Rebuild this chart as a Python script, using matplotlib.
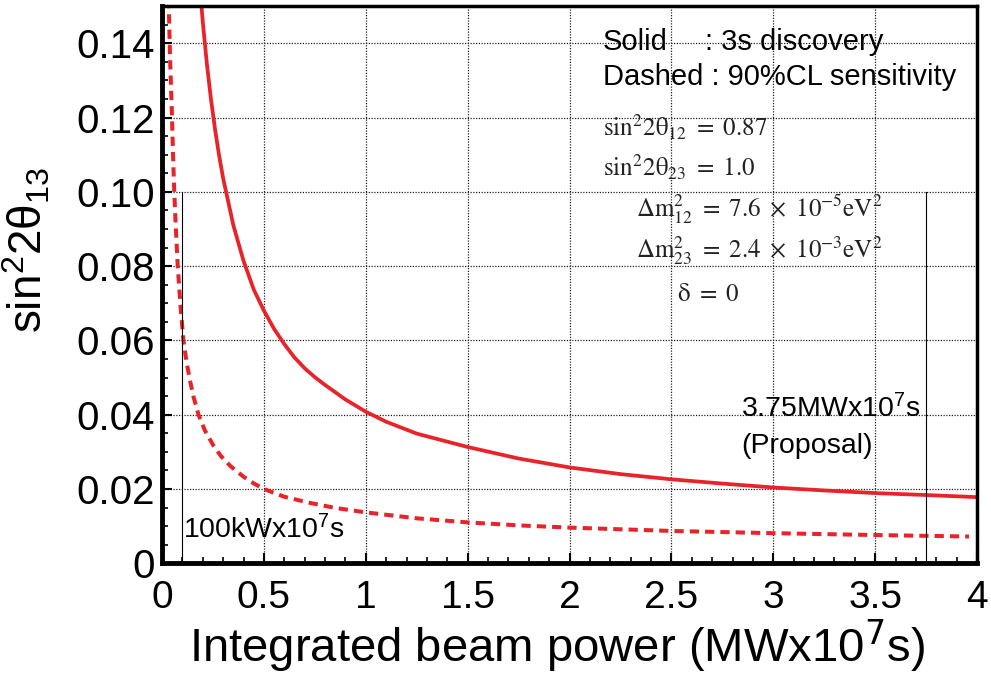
import numpy as np
import matplotlib
matplotlib.use("Agg")
import matplotlib.pyplot as plt
from matplotlib.ticker import MultipleLocator

plt.rcParams['font.family'] = ['Liberation Sans', 'DejaVu Sans']
plt.rcParams['mathtext.fontset'] = 'custom'
plt.rcParams['mathtext.rm'] = 'Liberation Sans'
plt.rcParams['mathtext.it'] = 'Liberation Sans'
plt.rcParams['mathtext.bf'] = 'Liberation Sans:bold'

# 3 sigma discovery (solid)
power_disc = [0.185, 0.2, 0.22, 0.24, 0.26, 0.28, 0.3, 0.35, 0.4, 0.45, 0.5, 0.55, 0.6,
              0.65, 0.7, 0.75, 0.8, 0.9, 1.0, 1.1, 1.25, 1.5, 1.75, 2.0, 2.25, 2.5, 2.75,
              3.0, 3.25, 3.5, 3.75, 4.0]
sin_disc = [0.1556, 0.1457, 0.1345, 0.125, 0.1169, 0.1098, 0.1036, 0.0910, 0.0814, 0.0737,
            0.068, 0.0631, 0.0590, 0.0554, 0.0525, 0.0501, 0.0480, 0.0441, 0.0408, 0.0381,
            0.0349, 0.0313, 0.0282, 0.0258, 0.0240, 0.0226, 0.02145, 0.0204, 0.0196,
            0.01889, 0.01837, 0.0178]

# 90%CL sensitivity (dashed)
power_sens = [0.032, 0.034, 0.04, 0.048, 0.054, 0.06, 0.068, 0.077, 0.09, 0.105, 0.12,
              0.138, 0.155, 0.179, 0.21, 0.253, 0.29, 0.335, 0.4, 0.45, 0.5, 0.6, 0.73,
              0.85, 1.0, 1.25, 1.5, 1.75, 2.0, 2.5, 3.0, 3.5, 3.96]
sin_sens = [0.155, 0.148, 0.135, 0.122, 0.110, 0.100, 0.090, 0.080, 0.0698, 0.060, 0.0543,
            0.049, 0.0447, 0.040, 0.0358, 0.0316, 0.0288, 0.0262, 0.0233, 0.0215, 0.020,
            0.0179, 0.0162, 0.0149, 0.0137, 0.0121, 0.0110, 0.0102, 0.0096, 0.0087, 0.0081,
            0.0076, 0.0072]

marker_lines = [0.1, 3.75]
marker_top = 0.10

params = [r'$\mathrm{sin^2 2\theta_{12}\ =\ 0.87}$',
          r'$\mathrm{sin^2 2\theta_{23}\ =\ 1.0}$',
          r'$\mathrm{\Delta m^2_{12}\ =\ 7.6\ \times\ 10^{-5}eV^2}$',
          r'$\mathrm{\Delta m^2_{23}\ =\ 2.4\ \times\ 10^{-3}eV^2}$',
          r'$\mathrm{\delta\ =\ 0}$']

red = '#e8242a'

fig = plt.figure(figsize=(9.91, 6.77), dpi=100)
ax = fig.add_axes([0.1635, 0.168, 0.8225, 0.823])

ax.plot(power_disc, sin_disc, color=red, lw=2.7, solid_joinstyle='round')
ax.plot(power_sens, sin_sens, color=red, lw=2.9, linestyle=(0, (2.3, 1.5)))

for xm in marker_lines:
    ax.plot([xm, xm], [0, marker_top], color='black', lw=0.8)

ax.set_xlim(0, 4)
ax.set_ylim(0, 0.15)
ax.xaxis.set_major_locator(MultipleLocator(0.5))
ax.xaxis.set_minor_locator(MultipleLocator(0.1))
ax.yaxis.set_major_locator(MultipleLocator(0.02))
ax.yaxis.set_minor_locator(MultipleLocator(0.005))
ax.set_xticks(np.arange(0, 4.01, 0.5))
ax.set_xticklabels(['0', '0.5', '1', '1.5', '2', '2.5', '3', '3.5', '4'])
ax.set_yticks(np.arange(0, 0.141, 0.02))
ax.set_yticklabels(['0', '0.02', '0.04', '0.06', '0.08', '0.10', '0.12', '0.14'])

ax.tick_params(which='both', direction='in', top=False, right=False)
ax.tick_params(which='major', length=7, width=1.5)
ax.tick_params(axis='x', which='major', labelsize=28, pad=12)
ax.tick_params(axis='y', which='major', labelsize=29, pad=5)
ax.tick_params(which='minor', length=4, width=1.2)
ax.grid(True, which='major', color='#222222', linestyle=(0, (1, 1.2)), linewidth=0.9)

ax.spines['left'].set_linewidth(3.5)
ax.spines['bottom'].set_linewidth(3.5)
ax.spines['top'].set_linewidth(2.5)
ax.spines['right'].set_linewidth(2.5)

ax.set_xlabel(r'Integrated beam power (MWx10$^{\mathsf{7}}$s)', fontsize=34)
ax.xaxis.set_label_coords(0.484, -0.097)
ax.set_ylabel(r'$\mathrm{sin}^2 2\theta_{13}$', fontsize=33)
ax.yaxis.set_label_coords(-0.134, 0.562)

H = 677
def px(x, y):
    # pixel position measured from the top left of the picture
    return (x / 991.0, 1 - y / H)

ax.text(*px(603, 50), 'Solid', transform=fig.transFigure, fontsize=21, va='baseline')
ax.text(*px(705, 50), ': 3s discovery', transform=fig.transFigure, fontsize=21, va='baseline')
ax.text(*px(603, 85), 'Dashed : 90%CL sensitivity', transform=fig.transFigure, fontsize=21,
        va='baseline')

ypos = [136, 176, 217, 258, 301]
xpos = [603, 603, 636, 636, 677]
for txt, xx, yy in zip(params, xpos, ypos):
    ax.text(*px(xx, yy), txt, transform=fig.transFigure, fontsize=18,
            math_fontfamily='stix', va='baseline', color='#222222')

ax.text(*px(183, 538), r'100kWx10$^7$s', transform=fig.transFigure, fontsize=20.5, va='baseline')
ax.text(*px(741, 417), r'3.75MWx10$^7$s', transform=fig.transFigure, fontsize=20.5, va='baseline')
ax.text(*px(741, 453), '(Proposal)', transform=fig.transFigure, fontsize=20.5, va='baseline')

fig.savefig('out.png', dpi=100, facecolor='white')
